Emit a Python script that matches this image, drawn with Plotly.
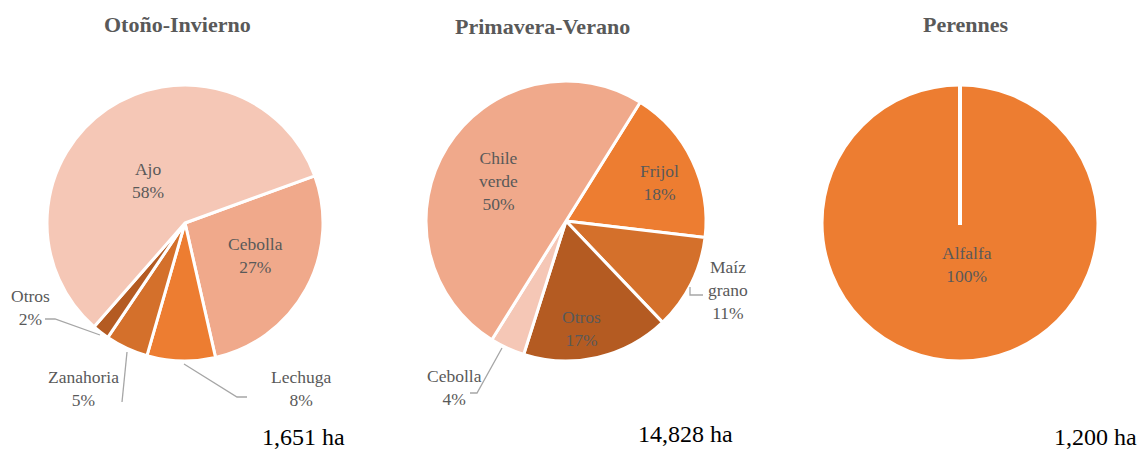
import plotly.graph_objects as go

W, H = 1138, 451

# ---------------- data ----------------
oi_title = "Otoño-Invierno"
oi_labels = ["Cebolla", "Lechuga", "Zanahoria", "Otros", "Ajo"]
oi_values = [27, 8, 5, 2, 58]
oi_total = "1,651 ha"

pv_title = "Primavera-Verano"
pv_labels = ["Frijol", "Maíz grano", "Otros", "Cebolla", "Chile verde"]
pv_values = [18, 11, 17, 4, 50]
pv_total = "14,828 ha"

pe_title = "Perennes"
pe_labels = ["Alfalfa"]
pe_values = [100]
pe_total = "1,200 ha"

# ---------------- styling ----------------
oi_colors = ["#F0A98B", "#ED7D31", "#D4702B", "#B45B22", "#F5C7B6"]
pv_colors = ["#ED7D31", "#D4702B", "#B45B22", "#F5C7B6", "#F0A98B"]
pe_colors = ["#ED7D31"]

SERIF = "Liberation Serif, Times New Roman, serif"
LABEL_FONT = dict(family=SERIF, size=17.5, color="#595959")
TITLE_FONT = dict(family=SERIF, size=22, color="#595959")
TOTAL_FONT = dict(family=SERIF, size=24, color="#000000")


def px(x):
    return x / W


def py(y):
    return 1 - y / H


def domain(cx, cy, r):
    return dict(x=[px(cx - r), px(cx + r)], y=[py(cy + r), py(cy - r)])


# pie geometry (pixels)
pies = [
    dict(labels=oi_labels, values=oi_values, colors=oi_colors, rot=70, cx=185, cy=223, r=138),
    dict(labels=pv_labels, values=pv_values, colors=pv_colors, rot=32, cx=566, cy=221, r=140),
    dict(labels=pe_labels, values=pe_values, colors=pe_colors, rot=0, cx=960, cy=223, r=138),
]

fig = go.Figure()
for p in pies:
    fig.add_trace(go.Pie(
        labels=p["labels"], values=p["values"],
        marker=dict(colors=p["colors"], line=dict(color="white", width=3)),
        sort=False, direction="clockwise", rotation=p["rot"],
        textinfo="none", showlegend=False,
        domain=domain(p["cx"], p["cy"], p["r"]),
    ))

# label positions (pixel centres) per slice
label_pos = {
    0: {"Cebolla": (256, 255), "Lechuga": (301, 388), "Zanahoria": (83, 388),
        "Otros": (30, 307), "Ajo": (148, 180)},
    1: {"Frijol": (659, 182), "Maíz grano": (728, 290), "Otros": (581, 328),
        "Cebolla": (454, 387), "Chile verde": (498, 181)},
    2: {"Alfalfa": (967, 264)},
}
multi_word = {"Chile verde", "Maíz grano"}

annotations = []
for i, p in enumerate(pies):
    for lab, val in zip(p["labels"], p["values"]):
        x, y = label_pos[i][lab]
        txt = lab.replace(" ", "<br>") if lab in multi_word else lab
        annotations.append(dict(
            x=px(x), y=py(y), xref="paper", yref="paper",
            text=f"{txt}<br>{val}%", showarrow=False,
            xanchor="center", yanchor="middle", font=LABEL_FONT,
        ))

titles = [(oi_title, 177, 25), (pv_title, 542, 27), (pe_title, 966, 25)]
for t, x, y in titles:
    annotations.append(dict(x=px(x), y=py(y), xref="paper", yref="paper",
                            text=f"<b>{t}</b>", showarrow=False,
                            xanchor="center", yanchor="middle", font=TITLE_FONT))

totals = [(oi_total, 303, 437), (pv_total, 685, 434), (pe_total, 1095, 437)]
for t, x, y in totals:
    annotations.append(dict(x=px(x), y=py(y), xref="paper", yref="paper",
                            text=t, showarrow=False,
                            xanchor="center", yanchor="middle", font=TOTAL_FONT))

# leader lines (pixel polylines)
leaders = [
    [(45, 319), (55, 319), (100, 335)],
    [(122, 402), (127, 352)],
    [(247, 397), (237, 397), (184, 364)],
    [(690, 287), (690, 295), (703, 295)],
    [(470, 393), (477, 393), (502, 348)],
]
shapes = []
for pts in leaders:
    path = "M " + " L ".join(f"{px(x)},{py(y)}" for x, y in pts)
    shapes.append(dict(type="path", xref="paper", yref="paper", path=path,
                       line=dict(color="#A6A6A6", width=1.3)))

# single-slice boundary for the 100% pie
p3 = pies[2]
shapes.append(dict(type="line", xref="paper", yref="paper",
                   x0=px(p3["cx"]), y0=py(p3["cy"] + 2),
                   x1=px(p3["cx"]), y1=py(p3["cy"] - p3["r"] - 1),
                   line=dict(color="white", width=4)))

fig.update_layout(
    width=W, height=H,
    margin=dict(l=0, r=0, t=0, b=0),
    paper_bgcolor="white", plot_bgcolor="white",
    annotations=annotations, shapes=shapes,
)

fig.write_html(
    "out.html",
    config={"displayModeBar": False},
    post_script="document.body.style.margin='0';document.body.style.overflow='hidden';",
)
